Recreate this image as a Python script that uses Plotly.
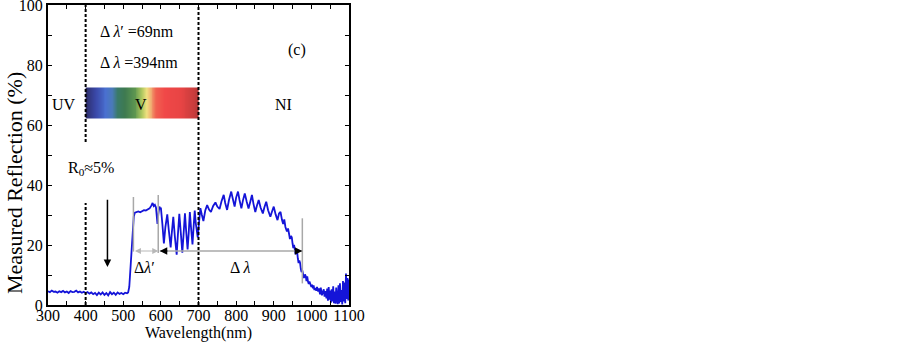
import plotly.graph_objects as go

# ---------------- data ----------------
wavelength_base = [300, 305, 310, 315, 320, 325, 330, 335, 340, 345, 350, 355, 360, 365, 370,
                   375, 380, 385, 390, 395, 400, 405, 410, 415, 420, 425, 430, 435, 440, 445,
                   450, 455, 460, 465, 470, 475, 480, 485, 490, 495, 500, 505, 510]
refl_base = [4.6, 4.3, 4.8, 4.4, 4.5, 4.1, 4.6, 4.3, 4.7, 4.2, 4.5, 4.0, 4.6, 4.3, 4.4,
             4.8, 4.2, 4.5, 4.1, 4.4, 4.0, 4.3, 3.8, 4.2, 3.6, 4.0, 3.3, 4.1, 3.5, 4.2,
             3.4, 4.0, 3.2, 4.3, 3.6, 4.1, 3.4, 4.2, 3.7, 4.0, 3.6, 4.1, 3.9]

wavelength_edge = [513, 516, 519, 522, 525, 528, 531, 535, 540, 545, 550, 555, 560, 565, 570,
                   575, 578, 581, 584, 587, 589, 591, 593, 596, 599]
refl_edge = [4.2, 6.0, 12.0, 20.0, 26.0, 29.5, 30.8, 31.0, 31.2, 30.9, 31.4, 31.6, 31.5, 32.0, 32.2,
             33.2, 34.0, 33.0, 33.4, 32.5, 29.0, 27.0, 30.0, 32.8, 32.0]

wavelength_osc = [600, 604, 608, 612, 617, 621, 626, 629, 633, 637, 642, 645, 649, 653, 657,
                  660, 664, 667, 671, 674, 677, 680, 684, 687, 690, 693, 698, 701]
refl_osc = [32.5, 27.0, 20.5, 26.0, 30.2, 25.0, 19.2, 24.0, 29.4, 23.0, 16.8, 23.0, 30.4, 24.0, 17.4,
            23.0, 30.6, 25.0, 18.5, 24.0, 31.0, 26.0, 20.2, 26.0, 31.5, 27.0, 22.5, 27.0]

wavelength_hump = [705, 709, 713, 718, 723, 728, 733, 739, 745, 750, 756, 761, 767, 771, 776,
                   781, 787, 791, 796, 800, 805, 809, 814, 818, 823, 828, 833, 838, 842, 846,
                   851, 855, 860, 865, 871, 875, 880, 885, 891, 895, 900, 905, 910]
refl_hump = [32.3, 30.0, 28.0, 31.5, 33.3, 31.8, 31.0, 33.0, 34.2, 32.8, 32.0, 34.5, 36.7, 34.0, 31.7,
             35.0, 37.8, 35.5, 32.8, 35.8, 37.8, 35.0, 32.2, 34.8, 37.2, 34.5, 32.2, 34.6, 36.7, 33.8,
             31.0, 33.0, 35.0, 32.5, 30.5, 32.5, 34.4, 31.6, 29.4, 31.0, 32.8, 30.2, 28.3]

wavelength_fall = [914, 918, 922, 925, 928, 931, 935, 938, 941, 943, 946, 948, 950, 952, 954,
                   956, 958, 960, 962, 964, 966, 968, 970, 972, 974, 976, 978, 980, 983, 985,
                   987, 989, 991, 993, 995, 997, 1000, 1002, 1004, 1006, 1008, 1010, 1013, 1015,
                   1018, 1020, 1023, 1025, 1028, 1030, 1033, 1035, 1038, 1040, 1042, 1044, 1046,
                   1048, 1050, 1052, 1054, 1056, 1058, 1060, 1062, 1064, 1066, 1068, 1070, 1072,
                   1074, 1076, 1078, 1080, 1082, 1084, 1086, 1088, 1090, 1092, 1094, 1096, 1098, 1100]
refl_fall = [30.5, 31.0, 28.3, 27.0, 28.5, 26.0, 24.5, 25.5, 23.5, 22.0, 23.0, 22.5, 20.5, 19.0, 20.0,
             18.5, 17.0, 17.5, 18.0, 15.5, 14.0, 14.8, 14.0, 12.0, 11.0, 11.5, 9.5, 9.0, 10.2, 9.6,
             8.0, 9.5, 7.8, 7.0, 7.8, 7.2, 6.0, 6.8, 5.6, 6.5, 5.0, 5.6, 4.8, 6.0,
             4.5, 5.5, 3.6, 5.8, 3.2, 4.2, 5.2, 2.8, 4.6, 2.2, 5.5, 1.4, 6.0,
             1.8, 4.8, 0.8, 5.2, 1.2, 6.2, 0.6, 4.5, 0.4, 5.8, 1.5, 0.3, 6.6,
             0.5, 7.2, 1.0, 5.0, 0.2, 8.0, 1.2, 7.5, 0.6, 10.5, 2.0, 9.0, 1.5, 8.5]

wavelength = wavelength_base + wavelength_edge + wavelength_osc + wavelength_hump + wavelength_fall
reflection = refl_base + refl_edge + refl_osc + refl_hump + refl_fall

x_ticks = [300, 400, 500, 600, 700, 800, 900, 1000, 1100]
y_ticks = [0, 20, 40, 60, 80, 100]

# visible-spectrum colour stops (fraction along bar, colour)
spectrum_stops = [(0.0, "#2c2c66"), (0.09, "#3a48a8"), (0.18, "#4a70d0"), (0.236, "#4a7ab8"),
                  (0.28, "#3a7a68"), (0.35, "#3e7a50"), (0.44, "#609850"), (0.5, "#b0c860"),
                  (0.54, "#f0e080"), (0.58, "#f0a870"), (0.625, "#f06050"), (0.7, "#f04848"),
                  (0.84, "#e84444"), (0.96, "#c83c3c"), (1.0, "#b03838")]
spectrum_cells = 120
spectrum_z = [[(i + 0.5) / spectrum_cells for i in range(spectrum_cells)]]

FONT = "Liberation Serif, Times New Roman, serif"

fig = go.Figure()

# spectrum bar 400-700 nm, R 62.3-72.5
fig.add_trace(go.Heatmap(
    z=spectrum_z, x0=400 + 300 / spectrum_cells / 2, dx=300 / spectrum_cells,
    y0=67.4, dy=10.2, colorscale=[[s, c] for s, c in spectrum_stops],
    zmin=0, zmax=1, showscale=False, hoverinfo="skip"))

fig.add_trace(go.Scatter(x=wavelength, y=reflection, mode="lines",
                         line=dict(color="#1414d8", width=1.8), hoverinfo="skip",
                         showlegend=False))

# dashed boundary lines
dash = "3px,2px"
for (x, y0, y1) in [(400, 54.3, 100), (400, 0, 34), (700, 0, 100)]:
    fig.add_shape(type="line", x0=x, x1=x, y0=y0, y1=y1, xref="x", yref="y",
                  line=dict(color="black", width=2, dash=dash), layer="above")

# grey markers
grey = "#a8a8a8"
for (x, y0, y1) in [(527, 17.8, 36.0), (593, 17.3, 36.7), (976, 7.2, 28.9)]:
    fig.add_shape(type="line", x0=x, x1=x, y0=y0, y1=y1, xref="x", yref="y",
                  line=dict(color=grey, width=1.5), layer="above")
fig.add_shape(type="line", x0=597, x1=976, y0=18, y1=18, xref="x", yref="y",
              line=dict(color=grey, width=1.3), layer="above")

annotations = []
annotations.append(dict(x=593, y=18, ax=527, ay=18, xref="x", yref="y", axref="x", ayref="y",
                        text="", showarrow=True, arrowhead=2, arrowside="end+start",
                        arrowsize=1, arrowwidth=1.2, arrowcolor="#b8b8b8"))
annotations.append(dict(x=597, y=18, ax=9, ay=0, xref="x", yref="y", text="", showarrow=True,
                        arrowhead=2, arrowsize=1, arrowwidth=1.5, arrowcolor="black"))
annotations.append(dict(x=976, y=18, ax=-9, ay=0, xref="x", yref="y", text="", showarrow=True,
                        arrowhead=2, arrowsize=1, arrowwidth=1.5, arrowcolor="black"))
annotations.append(dict(x=458, y=12.7, ax=458, ay=35.6, xref="x", yref="y", axref="x", ayref="y",
                        text="", showarrow=True, arrowhead=2, arrowsize=1, arrowwidth=1.5,
                        arrowcolor="black"))

texts = [
    ("Δ <i>λ</i>′ =69nm", 433, 91.3, "left"),
    ("Δ <i>λ</i> =394nm", 433, 80.8, "left"),
    ("(c)", 962, 85, "center"),
    ("UV", 342, 67, "center"),
    ("V", 548, 67, "center"),
    ("NI", 926, 67, "center"),
    ("R<sub>0</sub>≈5%", 348, 45.6, "left"),
    ("Δ<i>λ</i>′", 557, 12.5, "center"),
    ("Δ <i>λ</i>", 811, 12.5, "center"),
]
for t, x, y, anc in texts:
    annotations.append(dict(x=x, y=y, xref="x", yref="y", text=t, showarrow=False,
                            xanchor=anc, yanchor="middle",
                            font=dict(family=FONT, size=16, color="black")))

# y-axis title (placed as in the reference, slightly below the axis centre)
annotations.append(dict(x=-0.109, y=0.407, xref="paper", yref="paper",
                        text="Measured Reflection (%)", textangle=-90, showarrow=False,
                        xanchor="center", yanchor="middle",
                        font=dict(family=FONT, size=22, color="black")))

fig.update_layout(
    width=903, height=343,
    margin=dict(l=48, r=554, t=5, b=38, autoexpand=False),
    paper_bgcolor="white", plot_bgcolor="white",
    showlegend=False,
    font=dict(family=FONT, size=16, color="black"),
    annotations=annotations,
    xaxis=dict(range=[300, 1100], tickvals=x_ticks, ticktext=[str(v) for v in x_ticks],
               ticks="inside", ticklen=4, tickwidth=1, tickcolor="black",
               minor=dict(dtick=50, ticks="inside", ticklen=4, tickcolor="black", tick0=300),
               showline=True, linewidth=2, linecolor="black", mirror="ticks",
               showgrid=False, zeroline=False, automargin=False,
               ticklabeloverflow="allow", ticklabelstandoff=-5,
               tickfont=dict(family=FONT, size=16, color="black"),
               title=dict(text="Wavelength(nm)", standoff=4,
                          font=dict(family=FONT, size=16, color="black"))),
    yaxis=dict(range=[0, 100], tickvals=y_ticks,
               ticks="inside", ticklen=4, tickwidth=1, tickcolor="black",
               minor=dict(dtick=10, ticks="inside", ticklen=4, tickcolor="black", tick0=0),
               showline=True, linewidth=2, linecolor="black", mirror="ticks",
               showgrid=False, zeroline=False, automargin=False,
               ticklabeloverflow="allow",
               tickfont=dict(family=FONT, size=16, color="black")),
)

fig.write_html("out.html", config={"displayModeBar": False},
               post_script="document.body.style.margin='0';document.body.style.overflow='hidden';")
